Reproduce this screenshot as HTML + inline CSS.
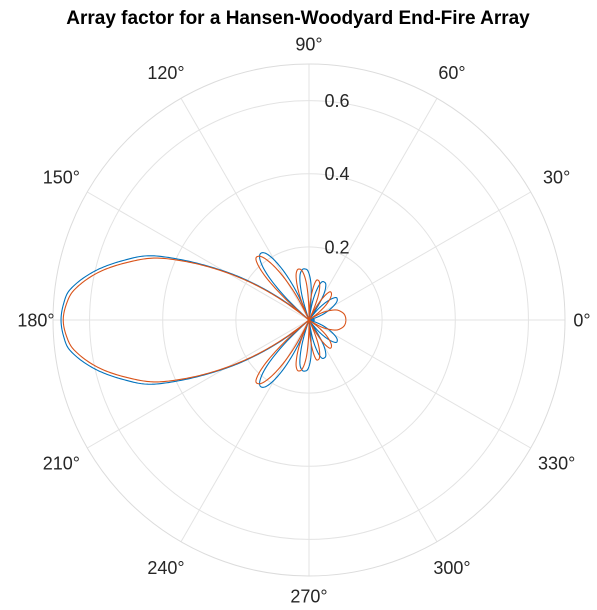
<!DOCTYPE html>
<html><head><meta charset="utf-8"><style>
html,body{margin:0;padding:0;background:#fff;}
svg{display:block;font-family:"Liberation Sans",sans-serif;}
</style></head><body>
<svg id="chart" width="597" height="610" viewBox="0 0 597 610">
<text x="298" y="24" text-anchor="middle" font-size="19" font-weight="bold" fill="#000">Array factor for a Hansen-Woodyard End-Fire Array</text>
<g id="grid"></g>
<g id="series"></g>
<g id="labels"></g>
</svg>
<script>
// Data (upper half, pattern symmetric about 0-180 axis)
const blueAngles = [0,5,10,15,21,27,33,38,41,45,50,54.5,59,64,68.6,72,75,79,82,84,87,91,94.5,98,102,106,110,114,118,122,125.6,129,132.5,136,139,142.5,145.8,148.5,151.7,154.5,158,162,167.4,172.8,176,180];
const blueValues = [0.015,0.014,0.01,0,0.035,0.065,0.09,0.097,0.093,0.075,0.04,0,0.07,0.105,0.112,0.108,0.09,0.05,0,0.05,0.1,0.133,0.14,0.138,0.12,0.07,0,0.085,0.16,0.21,0.225,0.213,0.17,0.09,0,0.08,0.162,0.23,0.307,0.38,0.469,0.53,0.604,0.659,0.672,0.678];
const orangeAngles = [0,5,10,15,20,25,30,34,38,42,47.5,52,54.5,57.5,61,64,69,74,78,80,82.5,86,89,91.5,94,97.5,101,104,107,111,114,118,122,126,129.5,132,135,138,141,143,145.8,148.5,151.7,154.5,158,162,167.4,172.8,176,180];
const orangeValues = [0.101,0.1,0.097,0.09,0.08,0.06,0.035,0,0.035,0.065,0.09,0.097,0.093,0.075,0.04,0,0.07,0.105,0.112,0.108,0.09,0.05,0,0.05,0.1,0.133,0.142,0.138,0.12,0.07,0,0.085,0.16,0.21,0.224,0.214,0.17,0.09,0,0.07,0.15,0.22,0.30,0.37,0.452,0.515,0.592,0.648,0.664,0.672];
const rTicks = [0.2,0.4,0.6];
const rMax = 0.7;
const thetaTicks = [0,30,60,90,120,150,180,210,240,270,300,330];

const NS='http://www.w3.org/2000/svg';
const cx=309, cy=320, R=256;
function rScale(v){return v/rMax*R;}
function pt(deg,v){const a=deg*Math.PI/180, r=rScale(v);return [cx+r*Math.cos(a), cy-r*Math.sin(a)];}
function mk(tag,attrs,parent){const e=document.createElementNS(NS,tag);for(const k in attrs)e.setAttribute(k,attrs[k]);parent.appendChild(e);return e;}
const grid=document.getElementById('grid'), series=document.getElementById('series'), labels=document.getElementById('labels');

thetaTicks.forEach(t=>{
  const p=pt(t,rMax);
  const l=mk('line',{x1:cx,y1:cy,x2:p[0].toFixed(2),y2:p[1].toFixed(2),stroke:'#e3e3e3','stroke-width':1},grid);
  
  
  const a=t*Math.PI/180;
  const lr=273+15*Math.abs(Math.sin(2*a))+3*Math.abs(Math.sin(a))*(Math.abs(Math.sin(a))>0.99?1:0);
  const tx=mk('text',{x:(cx+lr*Math.cos(a)).toFixed(2),y:(cy-lr*Math.sin(a)+6.5).toFixed(2),'text-anchor':'middle','font-size':18,fill:'#262626'},labels);
  tx.textContent=t+'°';
  
  
});
rTicks.concat([rMax]).forEach(v=>{
  const c=mk('circle',{cx:cx,cy:cy,r:rScale(v).toFixed(2),fill:'none',stroke:v===rMax?'#dcdcdc':'#e3e3e3','stroke-width':1},grid);
  
  
});
rTicks.forEach(v=>{
  const tx=mk('text',{x:337,y:(cy-rScale(v)+6.5).toFixed(2),'text-anchor':'middle','font-size':18,fill:'#262626'},labels);
  tx.textContent=v.toFixed(1);
  
  
});

function drawSeries(angles,values,color,name){
  const A=[],V=[];
  for(let i=0;i<angles.length;i++){A.push(angles[i]);V.push(values[i]);}
  for(let i=angles.length-2;i>=0;i--){A.push(360-angles[i]);V.push(values[i]);}
  const pts=[];
  for(let i=0;i<A.length-1;i++){
    const i0=Math.max(0,i-1), i3=Math.min(A.length-1,i+2);
    const a1=A[i],a2=A[i+1],v0=V[i0],v1=V[i],v2=V[i+1],v3=V[i3];
    const h=a2-a1;
    const m1=(v2-v0)/((A[i+1]-A[i0])||1)*h, m2=(v3-v1)/((A[i3]-A[i])||1)*h;
    const steps=Math.max(2,Math.ceil(h/0.25));
    for(let s=0;s<steps;s++){
      const t=s/steps,t2=t*t,t3=t2*t;
      let v=(2*t3-3*t2+1)*v1+(t3-2*t2+t)*m1+(-2*t3+3*t2)*v2+(t3-t2)*m2;
      if(v<0)v=0;
      pts.push(pt(a1+h*t,v));
    }
  }
  pts.push(pt(A[A.length-1],V[V.length-1]));
  const d='M'+pts.map(p=>p[0].toFixed(2)+','+p[1].toFixed(2)).join('L');
  const p=mk('path',{d:d,fill:'none',stroke:color,'stroke-width':1.1,'stroke-linejoin':'round'},series);
  
  
}
drawSeries(blueAngles,blueValues,'#0072BD','series-blue');
drawSeries(orangeAngles,orangeValues,'#D95319','series-orange');
</script>
</body></html>
